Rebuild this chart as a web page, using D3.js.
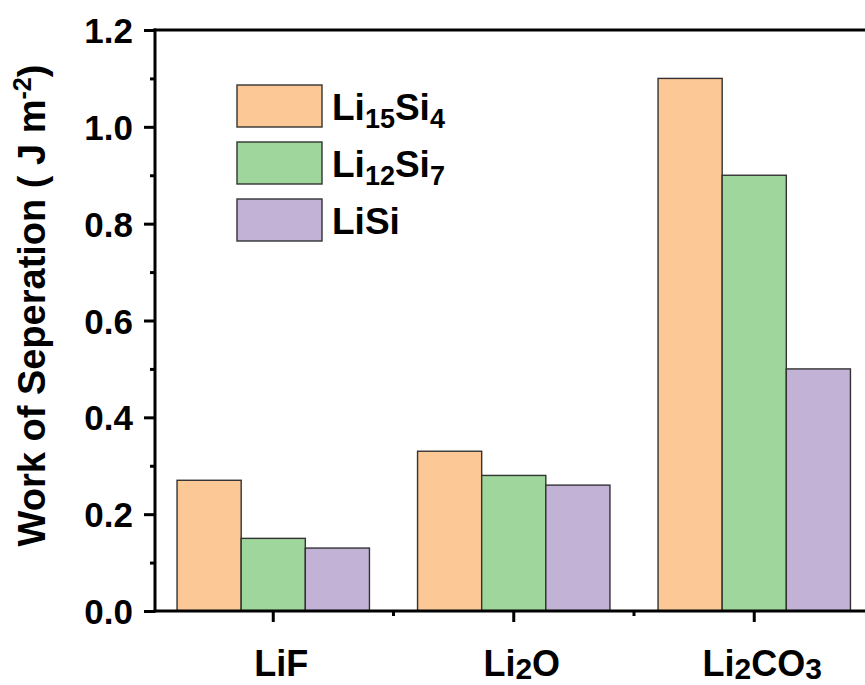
<!DOCTYPE html>
<html>
<head>
<meta charset="utf-8">
<script src="https://cdn.jsdelivr.net/npm/d3@7"></script>
<style>
  html, body { margin: 0; padding: 0; background: #fff; }
  svg text { font-family: "Liberation Sans", Arial, sans-serif; font-weight: bold; fill: #000; }
</style>
</head>
<body>
<svg id="chart" width="865" height="685"></svg>
<script>
// Substrate categories (x axis) and alloy series
const categories = ["LiF", "Li2O", "Li2CO3"];
const seriesNames = ["Li15Si4", "Li12Si7", "LiSi"];
const li15si4 = [0.27, 0.33, 1.10];
const li12si7 = [0.15, 0.28, 0.90];
const lisi    = [0.13, 0.26, 0.50];
const yTicks  = [0.0, 0.2, 0.4, 0.6, 0.8, 1.0, 1.2];

// Label pieces: [text, isSubscript]
const categoryLabels = [
  [["LiF", false]],
  [["Li", false], ["2", true], ["O", false]],
  [["Li", false], ["2", true], ["CO", false], ["3", true]]
];
const seriesLabels = [
  [["Li", false], ["15", true], ["Si", false], ["4", true]],
  [["Li", false], ["12", true], ["Si", false], ["7", true]],
  [["LiSi", false]]
];

const seriesValues = [li15si4, li12si7, lisi];
const colors = ["#FCC896", "#9FD69C", "#C2B2D6"];

const svg = d3.select("#chart");
const plotLeft = 155, plotTop = 30, plotBottom = 611, plotRight = 874.5;

const x = d3.scaleBand().domain(categories).range([153, plotRight]).padding(0);
const inner = d3.scaleBand().domain(seriesNames)
  .range([0, x.bandwidth() * 0.8]);
const y = d3.scaleLinear().domain([0, 1.2]).range([plotBottom, plotTop]);

// Bars
const groups = svg.append("g").selectAll("g")
  .data(categories)
  .join("g")
  .attr("transform", d => `translate(${x(d) + x.bandwidth() * 0.1},0)`);

groups.selectAll("rect")
  .data((c, i) => seriesNames.map((s, j) => ({ s, j, v: seriesValues[j][i] })))
  .join("rect")
  .attr("x", d => inner(d.s))
  .attr("width", inner.bandwidth())
  .attr("y", d => y(d.v))
  .attr("height", d => y(0) - y(d.v))
  .attr("fill", d => colors[d.j])
  .attr("stroke", "#333")
  .attr("stroke-width", 1.4);

// Y axis: major ticks with labels, minor ticks at 0.1 steps
const yAxis = d3.axisLeft(y).tickValues(yTicks).tickFormat(d3.format(".1f"))
  .tickSize(11).tickPadding(11);
const gy = svg.append("g").attr("transform", `translate(${plotLeft},0)`).call(yAxis);
gy.select(".domain").remove();
gy.selectAll(".tick line").attr("stroke", "#000").attr("stroke-width", 3);
gy.selectAll(".tick text").style("font-size", "35px").attr("dy", "0.36em");

const yMinor = d3.axisLeft(y).tickValues(d3.range(0.1, 1.2, 0.2)).tickSize(5).tickFormat("");
const gym = svg.append("g").attr("transform", `translate(${plotLeft},0)`).call(yMinor);
gym.select(".domain").remove();
gym.selectAll(".tick line").attr("stroke", "#000").attr("stroke-width", 3);

// X axis: ticks at category centres, minor ticks between groups
const xAxis = d3.axisBottom(x).tickSize(11).tickFormat("");
const gx = svg.append("g").attr("transform", `translate(0,${plotBottom})`).call(xAxis);
gx.select(".domain").remove();
gx.selectAll(".tick line").attr("stroke", "#000").attr("stroke-width", 3);

const between = categories.slice(1).map(c => x(c));
gx.selectAll(".minor").data(between).join("line")
  .attr("x1", d => d).attr("x2", d => d)
  .attr("y1", 0).attr("y2", 5)
  .attr("stroke", "#000").attr("stroke-width", 3);

// Category labels with subscripts
function addRich(sel, parts, mainSize, subSize, subShift) {
  parts.forEach(([t, sub], k) => {
    const ts = sel.append("tspan").text(t).style("font-size", (sub ? subSize : mainSize) + "px");
    if (sub) ts.attr("dy", subShift);
    else if (k > 0 && parts[k - 1][1]) ts.attr("dy", -subShift);
  });
}
categories.forEach((c, i) => {
  const t = svg.append("text")
    .attr("x", x(c) + x.bandwidth() / 2 + 8)
    .attr("y", 676)
    .attr("text-anchor", "middle");
  addRich(t, categoryLabels[i], 36, 30, 3);
});

// Axis frame lines (left, bottom, top)
svg.append("line").attr("x1", plotLeft).attr("x2", plotLeft).attr("y1", plotTop - 1.5).attr("y2", plotBottom + 1.5)
  .attr("stroke", "#000").attr("stroke-width", 3);
svg.append("line").attr("x1", plotLeft - 1.5).attr("x2", 865).attr("y1", plotBottom).attr("y2", plotBottom)
  .attr("stroke", "#000").attr("stroke-width", 3);
svg.append("line").attr("x1", plotLeft - 1.5).attr("x2", 865).attr("y1", plotTop).attr("y2", plotTop)
  .attr("stroke", "#000").attr("stroke-width", 3);

// Y axis title
const title = svg.append("text")
  .attr("transform", `translate(45,${(548 + 63) / 2}) rotate(-90)`)
  .attr("text-anchor", "middle")
  .style("font-size", "38px");
title.append("tspan").text("Work of Seperation ( J m");
title.append("tspan").text("-2").style("font-size", "25px").attr("dy", -14);
title.append("tspan").text(")").attr("dy", 14);

// Legend
const legend = svg.append("g");
seriesNames.forEach((s, j) => {
  const ly = 85 + j * 57;
  legend.append("rect")
    .attr("x", 237).attr("y", ly).attr("width", 85).attr("height", 42)
    .attr("fill", colors[j]).attr("stroke", "#333").attr("stroke-width", 1.4);
  const t = legend.append("text").attr("x", 332).attr("y", ly + 35);
  addRich(t, seriesLabels[j], 37, 27, 8);
});
</script>
</body>
</html>
